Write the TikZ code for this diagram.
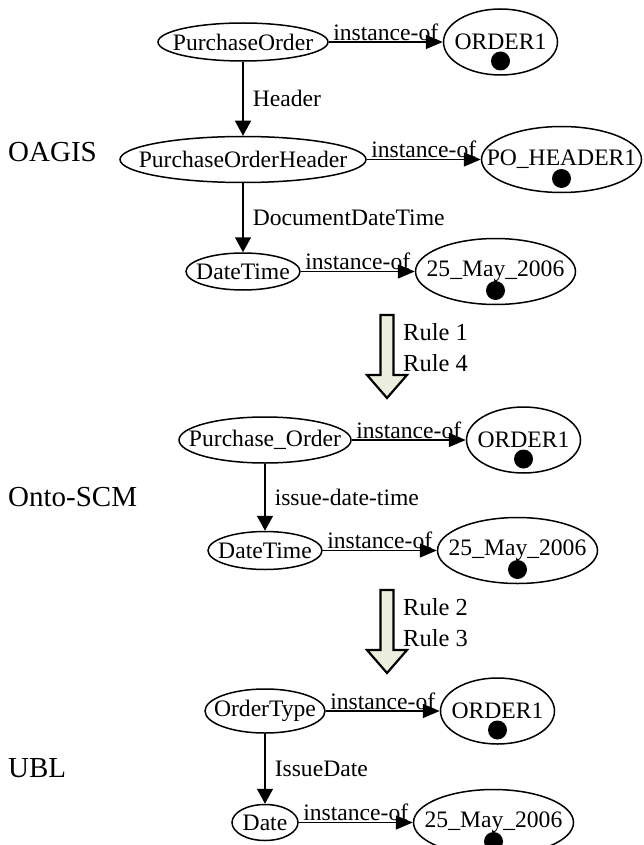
\documentclass[tikz,border=0pt]{standalone}
\usepackage{fontspec}
\setmainfont{Liberation Serif}
\usepackage{tikz}
\usetikzlibrary{
  arrows.meta,
  shapes.geometric,
  positioning
}
\usepackage{xcolor}
\definecolor{rulefill}{RGB}{236,239,221}
\tikzset{
  cls/.style={
    ellipse, draw, line width=1.5pt,
    inner xsep=-80pt, inner ysep=-40pt,
    font=\fontsize{23.6}{28}\selectfont
  },
  inst/.style={
    cls, minimum width=114pt, minimum height=66pt
  },
  isize/.style 2 args={minimum width=#1, minimum height=#2},
  edgelbl/.style={font=\fontsize{23.6}{28}\selectfont, inner sep=1pt},
  isa/.style={-{Triangle[length=17pt, width=14pt]}, line width=1.5pt},
  rel/.style={-{Triangle[length=15pt, width=16pt]}, line width=1.5pt},
  sect/.style={font=\fontsize{29}{34}\selectfont, anchor=west, inner sep=0pt},
  rulearr/.style={draw, fill=rulefill, line width=2.2pt},
  rulelbl/.style={
    font=\fontsize{24.5}{31}\selectfont,
    align=left, anchor=north west, inner sep=0pt
  }
}

\begin{document}
\begin{tikzpicture}[x=1pt, y=-1pt]
    \useasboundingbox (0,0) rectangle (643,845);

    %% ---- OAGIS ------------------------------------------------------
    \node[cls, isize={170pt}{38pt}] (po) at (243,42) {PurchaseOrder};
    \node[inst, right=114pt of po] (poi) {ORDER1};
    \node[cls, isize={246pt}{46pt}, below=74pt of po] (poh) {PurchaseOrderHeader};
    \node[inst, isize={160pt}{66pt}, right=114pt of poh] (pohi) {PO\_HEADER1};
    \node[cls, isize={114pt}{37pt}, below=69pt of poh] (dt1) {DateTime};
    \node[inst, isize={160pt}{66pt}, right=114pt of dt1] (dt1i) {25\_May\_2006};

    \draw[rel] (po) -- (poh) node[midway, right=8pt, edgelbl] {Header};
    \draw[rel] (poh) -- (dt1) node[midway, right=8pt, edgelbl] {DocumentDateTime};

    %% ---- Onto-SCM ---------------------------------------------------
    \node[cls, isize={172pt}{46pt}] (pord) at (265,440) {Purchase\_Order};
    \node[inst, right=114pt of pord] (pordi) {ORDER1};
    \node[cls, isize={114pt}{38pt}, below=67pt of pord] (dt2) {DateTime};
    \node[inst, isize={160pt}{66pt}, right=114pt of dt2] (dt2i) {25\_May\_2006};

    \draw[rel] (pord) -- (dt2) node[midway, right=8pt, edgelbl] {issue-date-time};

    %% ---- UBL --------------------------------------------------------
    \node[cls, isize={120pt}{44pt}] (ot) at (265,711) {OrderType};
    \node[inst, right=114pt of ot] (oti) {ORDER1};
    \node[cls, isize={66pt}{36pt}, below=70pt of ot] (dt3) {Date};
    \node[inst, isize={160pt}{66pt}, right=114pt of dt3] (dt3i) {25\_May\_2006};

    \draw[rel] (ot) -- (dt3) node[midway, right=8pt, edgelbl] {IssueDate};

    %% ---- instance links and instance dots ---------------------------
    \foreach \a/\b in {po/poi, poh/pohi, dt1/dt1i, pord/pordi, dt2/dt2i, ot/oti, dt3/dt3i}{
      \draw[isa] (\a) -- (\b) node[midway, above, edgelbl] {instance-of};
      \fill ([yshift=-19pt]\b.center) circle (9.5pt);
    }

    %% ---- mapping rules ----------------------------------------------
    \foreach \ytop/\rules in {315/{Rule 1\\Rule 4}, 590/{Rule 2\\Rule 3}}{
      \coordinate (rtop) at (387,\ytop);
      \draw[rulearr] (rtop) ++(6.5,0) -- ++(0,60) -- ++(13.5,0) -- ++(-20,23)
        -- ++(-20,-23) -- ++(13.5,0) -- ++(0,-60) -- cycle;
      \node[rulelbl] at ([xshift=16pt, yshift=-8.5pt]rtop) {\rules};
    }

    %% ---- ontology labels --------------------------------------------
    \node[sect] (oagis) at (8,152) {OAGIS};
    \node[sect] (onto) at (8,497) {Onto-SCM};
    \node[sect] (ubl) at (8,768) {UBL};

\end{tikzpicture}
\end{document}
